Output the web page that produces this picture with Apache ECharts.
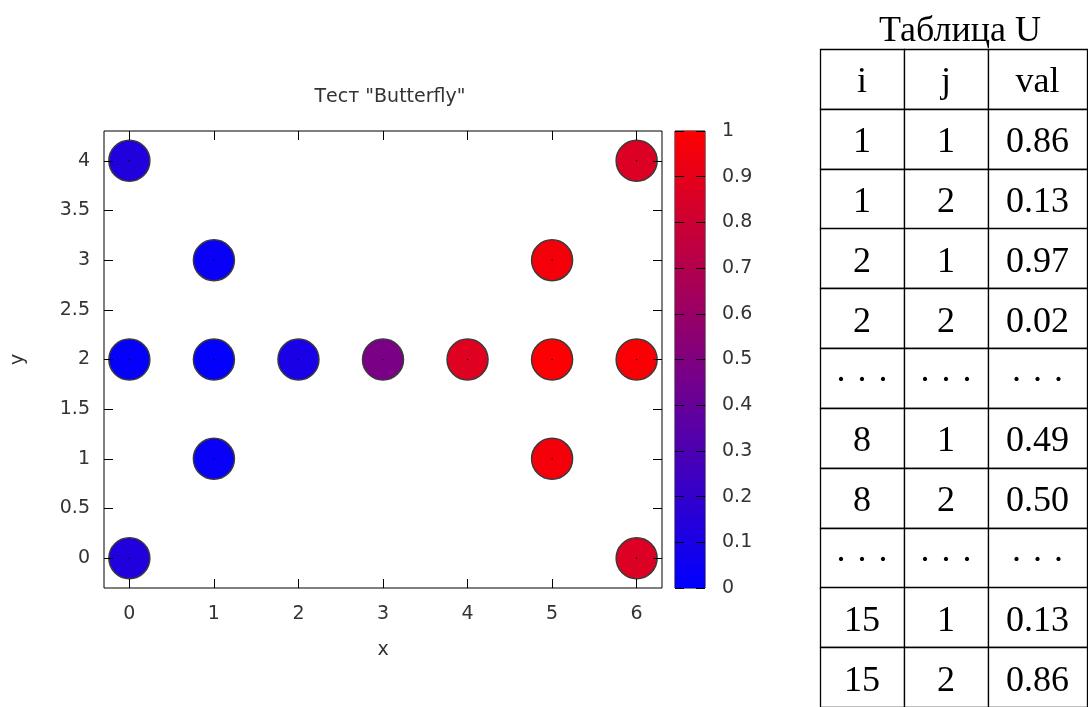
<!DOCTYPE html>
<html><head><meta charset="utf-8">
<script src="https://cdn.jsdelivr.net/npm/echarts@6/dist/echarts.min.js"></script>
<style>html,body{margin:0;padding:0;background:#fff}#c{width:1088px;height:707px}</style>
</head><body><div id="c"></div>
<script>
// ---------- data ----------
const chartTitle = 'Тест "Butterfly"';
const xName = 'x';
const yName = 'y';
const pointX   = [0, 1, 0, 1, 2, 3, 4, 5, 6, 1, 0, 5, 5, 6, 6];
const pointY   = [4, 3, 2, 2, 2, 2, 2, 2, 2, 1, 0, 3, 1, 4, 0];
const pointVal = [0.13, 0.03, 0.02, 0.01, 0.10, 0.48, 0.88, 0.99, 0.98, 0.03, 0.13, 0.96, 0.96, 0.86, 0.86];
const xTicks = [0, 1, 2, 3, 4, 5, 6];
const yTicks = [0, 0.5, 1, 1.5, 2, 2.5, 3, 3.5, 4];
const colorMin = 0, colorMax = 1, colorStep = 0.1;
const tableTitle = 'Таблица U';
const tableHeader = ['i', 'j', 'val'];
const tableColI   = ['1', '1', '2', '2', '· · ·', '8', '8', '· · ·', '15', '15'];
const tableColJ   = ['1', '2', '1', '2', '· · ·', '1', '2', '· · ·', '1', '2'];
const tableColVal = ['0.86', '0.13', '0.97', '0.02', '· · ·', '0.49', '0.50', '· · ·', '0.13', '0.86'];

// ---------- layout / style ----------
const SANS = '"DejaVu Sans", sans-serif';
const SERIF = '"Liberation Serif", "Times New Roman", serif';
const TXT = '#333';
const FS = 19;
const colEdges = [0, 84 / 267, 168 / 267, 1];

const scatterData = pointX.map((x, i) => [x, pointY[i], pointVal[i]]);
const tableCols = [tableColI, tableColJ, tableColVal];
const cellData = [], cellText = [];
const nRows = tableColI.length + 1;
tableHeader.forEach((h, c) => { cellData.push([c, 0]); cellText.push(h); });
for (let r = 0; r < tableColI.length; r++) {
  for (let c = 0; c < 3; c++) { cellData.push([c, r + 1]); cellText.push(tableCols[c][r]); }
}

const tickStyle = { show: true, inside: true, length: 9, lineStyle: { color: '#000', width: 1 } };
const noLine = { show: false, onZero: false };

const chart = echarts.init(document.getElementById('c'), null, { renderer: 'canvas' });
chart.setOption({
  backgroundColor: '#fff',
  animation: false,
  title: [
    { text: chartTitle, left: 385, top: 83, textAlign: 'center',
      textStyle: { fontFamily: SANS, fontSize: FS, fontWeight: 'normal', color: TXT } },
    { text: tableTitle, left: 955, top: 9, textAlign: 'center',
      textStyle: { fontFamily: SERIF, fontSize: 36, fontWeight: 'normal', color: '#000' } }
  ],
  visualMap: {
    show: false, type: 'continuous', seriesIndex: 0, dimension: 2,
    min: colorMin, max: colorMax, inRange: { color: ['#0000ff', '#ff0000'] }
  },
  grid: [
    { left: 104, top: 131, width: 558, height: 457, show: true, borderColor: '#000', borderWidth: 1, backgroundColor: 'transparent', containLabel: false },
    { left: 675, top: 131, width: 30, height: 457, show: true, borderColor: '#000', borderWidth: 1, backgroundColor: 'transparent', containLabel: false },
    { left: 820, top: 49, width: 267, height: 658, show: false, containLabel: false }
  ],
  xAxis: [
    { gridIndex: 0, type: 'value', min: -0.3, max: 6.3, position: 'bottom', z: 10,
      name: xName, nameLocation: 'middle', nameGap: 53,
      nameTextStyle: { fontFamily: SANS, fontSize: FS, color: TXT },
      axisLine: noLine, splitLine: { show: false },
      axisTick: Object.assign({ customValues: xTicks }, tickStyle),
      axisLabel: { customValues: xTicks, margin: 17, fontFamily: SANS, fontSize: FS, color: TXT } },
    { gridIndex: 0, type: 'value', min: -0.3, max: 6.3, position: 'top', z: 10,
      axisLine: noLine, splitLine: { show: false },
      axisTick: Object.assign({ customValues: xTicks }, tickStyle),
      axisLabel: { show: false } },
    { gridIndex: 1, type: 'category', data: ['c'], show: false },
    { gridIndex: 2, type: 'value', min: 0, max: 1, show: false }
  ],
  yAxis: [
    { gridIndex: 0, type: 'value', min: -0.3, max: 4.3, position: 'left', z: 10,
      name: yName, nameLocation: 'middle', nameGap: 76,
      nameTextStyle: { fontFamily: SANS, fontSize: FS, color: TXT },
      axisLine: noLine, splitLine: { show: false },
      axisTick: Object.assign({ customValues: yTicks }, tickStyle),
      axisLabel: { customValues: yTicks, margin: 14, fontFamily: SANS, fontSize: FS, color: TXT } },
    { gridIndex: 0, type: 'value', min: -0.3, max: 4.3, position: 'right', z: 10,
      axisLine: noLine, splitLine: { show: false },
      axisTick: Object.assign({ customValues: yTicks }, tickStyle),
      axisLabel: { show: false } },
    { gridIndex: 1, type: 'value', min: colorMin, max: colorMax, interval: colorStep, position: 'right', z: 10,
      axisLine: noLine, splitLine: { show: false },
      axisTick: tickStyle,
      axisLabel: { margin: 17, fontFamily: SANS, fontSize: FS, color: TXT } },
    { gridIndex: 1, type: 'value', min: colorMin, max: colorMax, interval: colorStep, position: 'left', z: 10,
      axisLine: noLine, splitLine: { show: false },
      axisTick: tickStyle, axisLabel: { show: false } },
    { gridIndex: 2, type: 'value', min: 0, max: nRows, inverse: true, show: false }
  ],
  series: [
    { type: 'scatter', xAxisIndex: 0, yAxisIndex: 0, data: scatterData, symbolSize: 41,
      itemStyle: { borderColor: '#3a3a3a', borderWidth: 1.5, opacity: 1 }, z: 3 },
    { type: 'scatter', xAxisIndex: 0, yAxisIndex: 0, data: scatterData.map(d => [d[0], d[1]]),
      symbolSize: 1.5, itemStyle: { color: '#000' }, silent: true, z: 4 },
    { type: 'bar', xAxisIndex: 2, yAxisIndex: 2, data: [colorMax], barWidth: '100%', silent: true,
      itemStyle: { color: { type: 'linear', x: 0, y: 0, x2: 0, y2: 1,
        colorStops: [{ offset: 0, color: '#ff0000' }, { offset: 1, color: '#0000ff' }] } }, z: 1 },
    { type: 'custom', xAxisIndex: 3, yAxisIndex: 4, data: cellData, silent: true, clip: false,
      renderItem: function (params, api) {
        const c = api.value(0), r = api.value(1);
        const p0 = api.coord([colEdges[c], r]);
        const p1 = api.coord([colEdges[c + 1], r + 1]);
        return { type: 'group', children: [
          { type: 'rect', shape: { x: Math.round(p0[0]) + 0.5, y: Math.round(p0[1]) + 0.5,
              width: Math.round(p1[0] - p0[0]), height: Math.round(p1[1] - p0[1]) },
            style: { fill: '#fff', stroke: '#000', lineWidth: 1.3 } },
          { type: 'text', x: (p0[0] + p1[0]) / 2, y: (p0[1] + p1[1]) / 2 + 4,
            style: { text: cellText[params.dataIndex], fill: '#000', font: '36px ' + SERIF,
              align: 'center', verticalAlign: 'middle' } }
        ] };
      } }
  ]
});
</script></body></html>
